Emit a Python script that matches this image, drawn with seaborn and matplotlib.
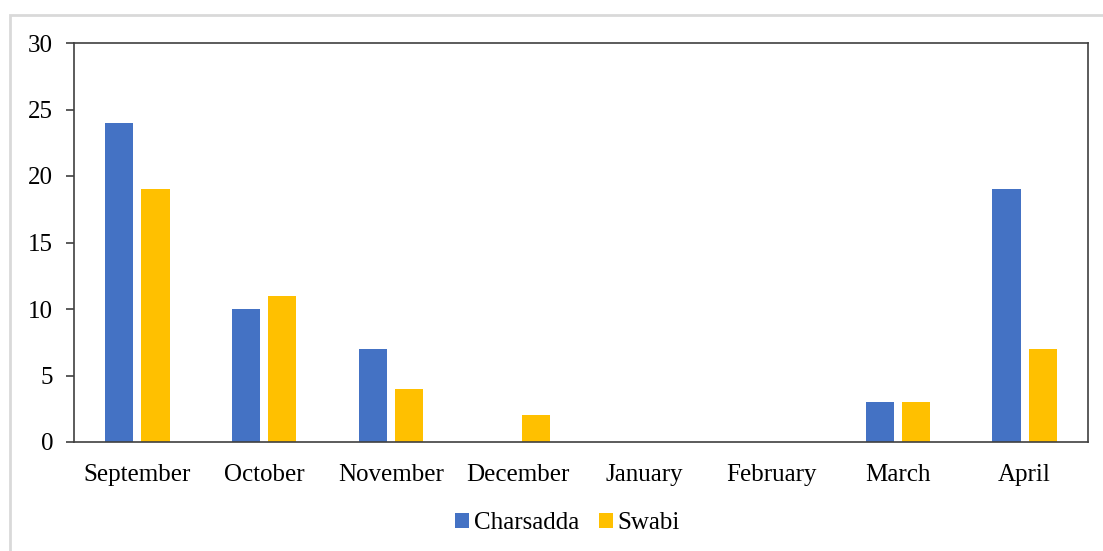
import pandas as pd
import numpy as np
import matplotlib
matplotlib.use('Agg')
import matplotlib.pyplot as plt
import seaborn as sns
from matplotlib.patches import Rectangle

# --- data ---
months = ['September', 'October', 'November', 'December', 'January', 'February', 'March', 'April']
charsadda = [24, 10, 7, 0, 0, 0, 3, 19]
swabi = [19, 11, 4, 2, 0, 0, 3, 7]
sites = ['Charsadda', 'Swabi']
colors = ['#4472C4', '#FFC000']

df = pd.DataFrame({
    'Month': months * 2,
    'Count': charsadda + swabi,
    'Site': [sites[0]] * len(months) + [sites[1]] * len(months),
})

sns.set_style('white')
plt.rcParams['font.family'] = ['Liberation Serif', 'DejaVu Serif']
FS = 18

fig = plt.figure(figsize=(11.03, 5.51), dpi=100)
ax = fig.add_axes([74 / 1103, 1 - 442 / 551, (1088 - 74) / 1103, (442 - 43) / 551])

sns.barplot(data=df, x='Month', y='Count', hue='Site', order=months, hue_order=sites,
            palette=colors, width=0.57, gap=0.22, saturation=1, linewidth=0, ax=ax)

ax.set_ylim(0, 30)
ax.set_yticks(range(0, 31, 5))
ax.set_xlim(-0.5, len(months) - 0.5)
ax.set_xlabel('')
ax.set_ylabel('')
for sp in ax.spines.values():
    sp.set_visible(True)
    sp.set_color('#404040')
    sp.set_linewidth(1.2)
ax.tick_params(axis='y', which='both', left=True, length=6, width=1.2, color='#404040',
               direction='out', pad=9, labelsize=FS, labelcolor='black')
ax.tick_params(axis='x', length=0, pad=16, labelsize=FS, labelcolor='black')

ax.get_legend().remove()
handles, labels = ax.get_legend_handles_labels()
fig.legend(handles, labels, loc='center', bbox_to_anchor=(0.5145, 1 - 523 / 551), ncol=2,
           frameon=False, fontsize=FS, handlelength=0.55, handleheight=0.55,
           handletextpad=0.2, columnspacing=0.8, labelcolor='black')

# light grey frame around the chart area
fig.patches.append(Rectangle((10 / 1103, -0.1), 1.2, 1 - 15 / 551 + 0.1, transform=fig.transFigure,
                             fill=False, edgecolor='#D9D9D9', linewidth=2))

fig.savefig('out.png', dpi=100)
